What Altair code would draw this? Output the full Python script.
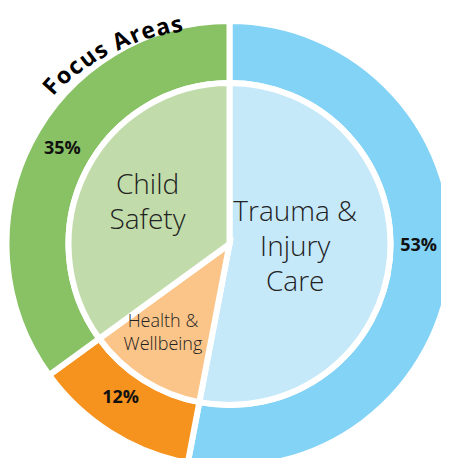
import altair as alt
import pandas as pd

# ---- data ----
categories = ["Trauma & Injury Care", "Health & Wellbeing", "Child Safety"]
shares = [53, 12, 35]
pct_labels = ["53%", "12%", "35%"]
inner_labels = ["Trauma &\nInjury\nCare", "Health &\nWellbeing", "Child\nSafety"]
title_text = "Focus Areas"

# ---- styles ----
outer_colors = ["#83D3F6", "#F6921E", "#89C165"]
inner_colors = ["#C6E9FA", "#FBC589", "#C1DCAA"]
FONT = "Open Sans"
CX, CY = 221.5, 236

df = pd.DataFrame({
    "cat": categories,
    "share": shares,
    "pct": pct_labels,
    "label": inner_labels,
    "order": list(range(len(categories))),
})

# curved title: per-character layout along an arc
char_w = {"F": .57, "o": .62, "c": .51, "u": .66, "s": .50, " ": .26,
          "A": .73, "r": .45, "e": .60, "a": .60}
ws = [char_w.get(ch, .6) for ch in title_text]
centers = []
acc = 0
for w in ws:
    centers.append(acc + w / 2)
    acc += w
a0, a1 = -48.5, -13.6
r0, r1 = 237, 225
span = centers[-1] - centers[0]
fr = [(c - centers[0]) / span for c in centers]
degs = [a0 + f * (a1 - a0) for f in fr]
title_df = pd.DataFrame({
    "ch": list(title_text),
    "t": [(d % 360) / 3.6 for d in degs],
    "rot": [d % 360 for d in degs],
    "rr": [r0 + f * (r1 - r0) for f in fr],
})

theta_scale = alt.Scale(domain=[0, 100])
base = alt.Chart(df).encode(x=alt.value(CX), y=alt.value(CY))

ring = base.mark_arc(innerRadius=161, outerRadius=223, stroke="white", strokeWidth=6).encode(
    theta=alt.Theta("share:Q", stack=True, scale=theta_scale),
    order=alt.Order("order:Q"),
    color=alt.Color("cat:N", scale=alt.Scale(domain=categories, range=outer_colors), legend=None),
)
pie = base.mark_arc(outerRadius=161, stroke="white", strokeWidth=6).encode(
    theta=alt.Theta("share:Q", stack=True, scale=theta_scale),
    order=alt.Order("order:Q"),
    fill=alt.Fill("cat:N", scale=alt.Scale(domain=categories, range=inner_colors), legend=None),
)

mid = base.transform_window(
    cum="sum(share)", sort=[alt.SortField("order")], frame=[None, 0]
).transform_calculate(mid="datum.cum - datum.share / 2")

# (index, radius, dx, dy) nudges for percentage labels
pct_layout = [(0, 192, -2, -16), (1, 190, -7, -6), (2, 192, 4, -8)]
pct_layers = [
    mid.transform_filter(f"datum.order == {i}").mark_text(
        radius=r, dx=dx, dy=dy, font=FONT, fontWeight="bold", fontSize=18,
        color="#111111", align="center", baseline="middle").encode(
        theta=alt.Theta("mid:Q", scale=theta_scale), text="pct:N")
    for i, r, dx, dy in pct_layout
]

# (index, radius, fontSize, lineHeight, dx, dy)
lab_layout = [(0, 66, 28, 35, 0, -37), (1, 113, 18, 23, -6, -17), (2, 92, 28, 35, 0, -16)]
lab_layers = [
    mid.transform_filter(f"datum.order == {i}").mark_text(
        radius=r, dx=dx, dy=dy, font=FONT, fontWeight=300, fontSize=fs, lineHeight=lh,
        lineBreak="\n", color="#222222", align="center", baseline="middle").encode(
        theta=alt.Theta("mid:Q", scale=theta_scale), text="label:N")
    for i, r, fs, lh, dx, dy in lab_layout
]

title = alt.Chart(title_df).mark_text(
    font=FONT, fontWeight="bold", fontSize=23, color="#000000",
    align="center", baseline="middle").encode(
    x=alt.value(CX), y=alt.value(CY),
    theta=alt.Theta("t:Q", scale=theta_scale),
    radius=alt.Radius("rr:Q", scale=None),
    angle=alt.Angle("rot:Q", scale=None),
    text="ch:N")

chart = alt.layer(ring, pie, *pct_layers, *lab_layers, title).resolve_scale(
    color="independent", fill="independent"
).properties(
    width=433, height=450, padding=0, autosize=alt.AutoSizeParams(type="none")
).configure_view(stroke=None)

chart.save("out.html", embed_options={"renderer": "svg", "actions": False})
